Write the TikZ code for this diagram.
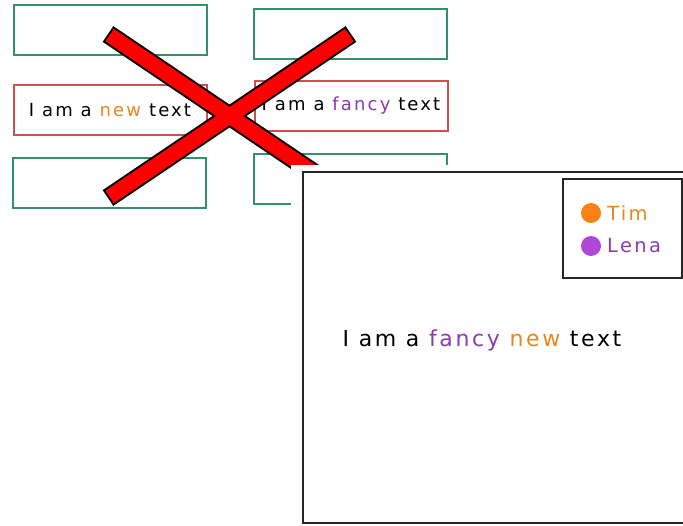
\documentclass[tikz,border=0pt]{standalone}
\usepackage{fontspec}
\setmainfont{DejaVu Sans}
\newfontfamily\sketchfont[LetterSpace=12]{DejaVu Sans}
\definecolor{sgreen}{RGB}{50,145,105}
\definecolor{sred}{RGB}{205,80,80}
\definecolor{sorange}{RGB}{232,135,30}
\definecolor{spurple}{RGB}{140,60,175}
\definecolor{dotorange}{RGB}{250,130,20}
\definecolor{dotpurple}{RGB}{175,70,215}
\definecolor{xred}{RGB}{255,0,0}
\tikzset{
  gbox/.style={draw=sgreen, line width=2pt, minimum width=193pt, minimum height=50pt, inner sep=0pt},
  rbox/.style={draw=sred, line width=2pt, minimum width=193pt, minimum height=50pt, inner sep=0pt, font=\sketchfont\fontsize{18}{21}\selectfont},
  panelbox/.style={draw=black!85, line width=2pt, inner sep=0pt},
  dot/.style={circle, inner sep=0pt, minimum size=20pt},
  lbl/.style={inner sep=0pt, font=\sketchfont\fontsize{19.5}{23}\selectfont},
}
\begin{document}
\begin{tikzpicture}[x=1pt,y=-1pt]
\useasboundingbox (0,0) rectangle (683,525);
\fill[white] (0,0) rectangle (683,525);
% boxes
\node[gbox] (g1) at (110,29.5) {};
\node[gbox] (g2) at (350,33.5) {};
\node[rbox] (r1) at (110,110) {I am a \textcolor{sorange}{new} text};
\node[rbox] (r2) at (351,105.5) {I am a \textcolor{spurple}{fancy} text};
\node[gbox] (g3) at (109,182.5) {};
\node[gbox] (g4) at (350,179) {};
% cross
\coordinate (a1) at (108,34);
\coordinate (b1) at (351,198);
\coordinate (a2) at (351,34);
\coordinate (b2) at (108,198);
\draw[black, line width=19pt] (a1) -- (b1);
\draw[black, line width=19pt] (a2) -- (b2);
\draw[xred, line width=15pt, shorten <=2pt, shorten >=2pt] (a1) -- (b1);
\draw[xred, line width=15pt, shorten <=2pt, shorten >=2pt] (a2) -- (b2);
% panel
\fill[white] (291,165) rectangle (683,525);
\node[panelbox, minimum width=385pt, minimum height=351pt] (panel) at (495.5,347.5) {};
\node[panelbox, minimum width=119pt, minimum height=99pt] (legend) at (622.5,228.5) {};
\node[dot, fill=dotorange] (dtim) at (591,213) {};
\node[dot, fill=dotpurple] (dlena) at (591,246) {};
\node[lbl, anchor=west, text=sorange] (tim) at (607,213) {Tim};
\node[lbl, anchor=west, text=spurple] (lena) at (607,246) {Lena};
\node[lbl, font=\sketchfont\fontsize{22}{26}\selectfont] (main) at (482,340) {I am a \textcolor{spurple}{fancy} \textcolor{sorange}{new} text};
\end{tikzpicture}
\end{document}
